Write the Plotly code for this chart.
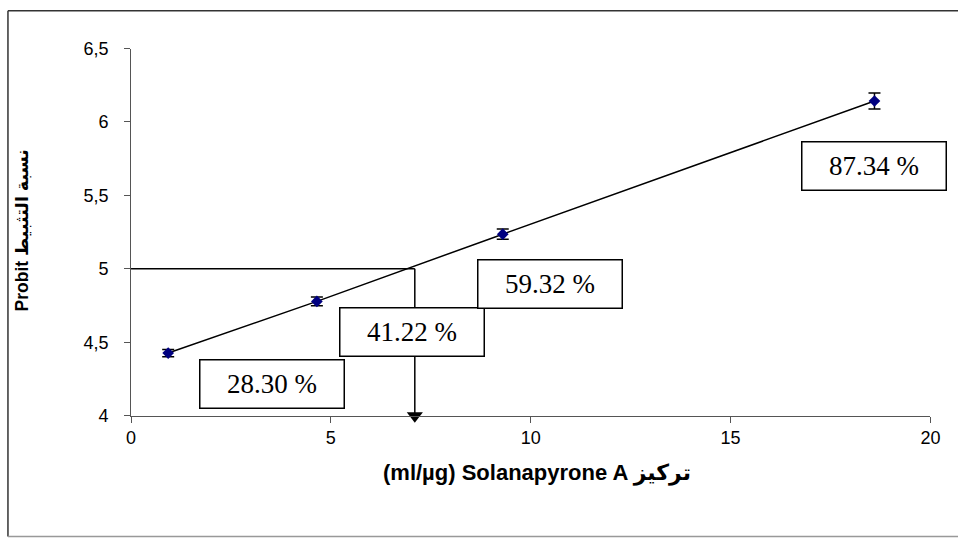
from statistics import NormalDist
import plotly.graph_objects as go

# Solanapyrone A concentration (µg/ml) and measured inhibition (%)
concentration = [0.93, 4.65, 9.3, 18.6]
inhibition_pct = [28.30, 41.22, 59.32, 87.34]
probit_error = [0.025, 0.03, 0.035, 0.055]

# concentration giving 50 % inhibition (probit 5)
lc50_concentration = 7.1
probit_mid = 5

x_tick_values = [0, 5, 10, 15, 20]
x_tick_labels = ["0", "5", "10", "15", "20"]
y_tick_values = [4, 4.5, 5, 5.5, 6, 6.5]
y_tick_labels = ["4", "4,5", "5", "5,5", "6", "6,5"]

# probit transform of the inhibition percentages
probit = [5 + NormalDist().inv_cdf(p / 100) for p in inhibition_pct]

W, H = 968, 548
AX_L, AX_R, AX_T, AX_B = 128, 940, 40, 421


def px(x):
    return x / W


def py(y):
    return 1 - y / H


sans = "Arial, Liberation Sans, DejaVu Sans, sans-serif"
serif = "Times New Roman, Liberation Serif, serif"

fig = go.Figure()

# guide lines at probit 5
fig.add_trace(go.Scatter(
    x=[0, lc50_concentration], y=[probit_mid, probit_mid],
    mode="lines", line=dict(color="black", width=1.5),
    hoverinfo="skip", showlegend=False,
))
fig.add_trace(go.Scatter(
    x=[lc50_concentration, lc50_concentration], y=[probit_mid, y_tick_values[0]],
    mode="lines", line=dict(color="black", width=1.5),
    hoverinfo="skip", showlegend=False,
))
fig.add_trace(go.Scatter(
    x=[lc50_concentration], y=[y_tick_values[0]],
    mode="markers", marker=dict(symbol="triangle-down", size=14, color="black"),
    cliponaxis=False, hoverinfo="skip", showlegend=False,
))

# data points with error bars
fig.add_trace(go.Scatter(
    x=concentration, y=probit,
    mode="lines+markers",
    line=dict(color="black", width=1.5),
    marker=dict(symbol="diamond", size=9, color="#000080"),
    error_y=dict(type="data", array=probit_error, visible=True,
                 color="black", thickness=1.5, width=6),
    cliponaxis=False, showlegend=False,
))

# percentage label boxes
label_pos = [(3.52, 4.218), (7.02, 4.572), (10.47, 4.896), (18.6, 5.70)]
annotations = []
for (lx, ly), pct in zip(label_pos, inhibition_pct):
    annotations.append(dict(
        x=lx, y=ly, xref="x", yref="y", text=f"{pct:.2f} %", showarrow=False,
        font=dict(family=serif, size=27, color="black"),
        bgcolor="white", bordercolor="black", borderwidth=1.5, borderpad=1,
        width=141, height=45, align="center", valign="middle",
    ))

# axis titles
annotations.append(dict(
    x=px(540), y=py(481), xref="paper", yref="paper",
    text="<b>(ml/µg) Solanapyrone A تركيز</b>", showarrow=False,
    font=dict(family=sans, size=22, color="black"),
    xanchor="center", yanchor="middle",
))
annotations.append(dict(
    x=px(17), y=py(229), xref="paper", yref="paper",
    text="<b>Probit نسبة التثبيط</b>", showarrow=False, textangle=-90,
    font=dict(family=sans, size=17.5, color="black"),
    xanchor="center", yanchor="middle",
))

axis_common = dict(
    showline=True, linecolor="#555555", linewidth=1,
    ticks="outside", ticklen=6, tickcolor="#555555", tickwidth=1,
    showgrid=False, zeroline=False,
    tickfont=dict(family=sans, size=18, color="black"),
)

fig.update_layout(
    width=W, height=H, autosize=False,
    margin=dict(l=0, r=0, t=0, b=0),
    paper_bgcolor="white", plot_bgcolor="white",
    xaxis=dict(domain=[px(AX_L), px(AX_R)], range=[0, 20],
               tickvals=x_tick_values, ticktext=x_tick_labels, **axis_common),
    yaxis=dict(domain=[py(AX_B), py(AX_T)], range=[4, 6.5],
               tickvals=y_tick_values, ticktext=y_tick_labels,
               ticklabelstandoff=12, **axis_common),
    annotations=annotations,
    shapes=[
        dict(type="line", xref="paper", yref="paper",
             x0=px(3), x1=px(3), y0=py(0.75), y1=py(546.5),
             line=dict(color="#333333", width=1.5)),
        dict(type="line", xref="paper", yref="paper",
             x0=px(3), x1=1.0, y0=py(0.75), y1=py(0.75),
             line=dict(color="#333333", width=1.5)),
        dict(type="line", xref="paper", yref="paper",
             x0=px(3), x1=1.0, y0=py(546.5), y1=py(546.5),
             line=dict(color="#999999", width=1.5)),
    ],
)

fig.write_html("out.html", config={"displayModeBar": False})
